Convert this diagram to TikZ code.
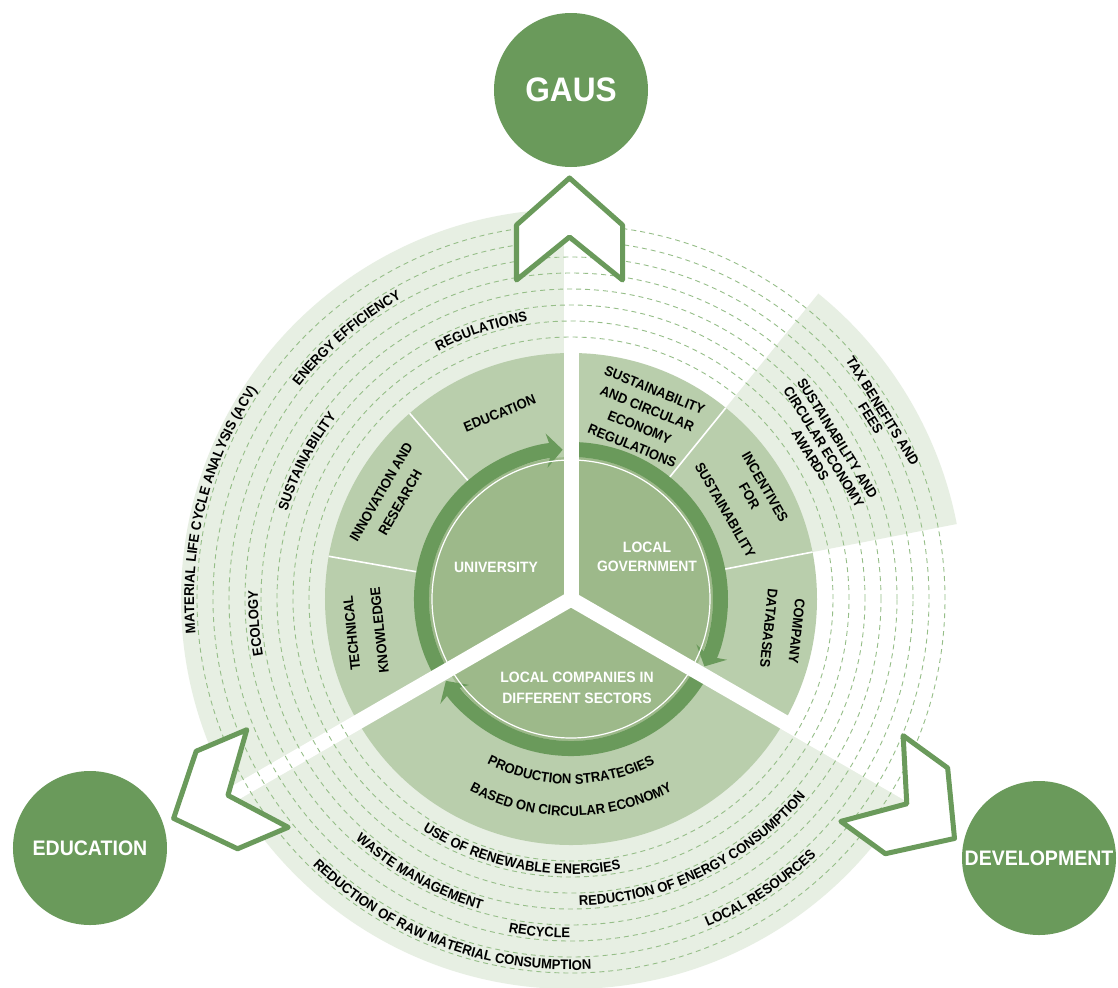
\documentclass[tikz,border=0pt]{standalone}
\usepackage{fontspec}
\setmainfont{Liberation Sans}[FakeStretch=0.93]
\usetikzlibrary{arrows.meta,decorations.text}

\definecolor{dkgreen}{RGB}{106,154,91}
\definecolor{hubgreen}{RGB}{157,185,138}
\definecolor{midgreen}{RGB}{185,206,172}
\definecolor{bandgreen}{RGB}{231,239,227}
\definecolor{dashgreen}{RGB}{150,190,136}

\newcommand{\lblfont}{\bfseries\fontsize{7}{9}\selectfont}

\begin{document}
\begin{tikzpicture}[x=0.5pt, y=0.5pt]
    \tikzset{ring label/.style={font=\lblfont, align=center, text=black, inner sep=0pt},
             hub label/.style={font=\bfseries\fontsize{7.5}{9.5}\selectfont, align=center, text=white, inner sep=0pt},
             goal/.style={circle, fill=dkgreen, text=white, minimum size=77pt, inner sep=0pt, font=\bfseries\fontsize{10.5}{12}\selectfont},
             ring arrow/.style={draw=dkgreen, line width=7.5pt, -{Stealth[width=17pt, length=8pt, inset=2.5pt]}},
             gap/.style={draw=white, line width=7.5pt},
             split/.style={draw=white, line width=0.8pt},
             dash ring/.style={draw=dashgreen, line width=0.45pt, dash pattern=on 2.5pt off 2pt},
             arc text/.style={decorate, decoration={text along path, text align=center, text={|\lblfont|#1}}},
             chevron/.pic={\draw[draw=dkgreen, fill=white, line width=2.5pt, line join=round] (0,53) -- (55,53) -- (102,0) -- (55,-53) -- (0,-53) -- (43,0) -- cycle;}}
    \path[use as bounding box, fill=white] (-571,-388) rectangle (547,599);
    % bands and rings
    \fill[bandgreen] (0,0) -- (90:390) arc[start angle=90, end angle=330, radius=390] -- cycle;
    \fill[bandgreen] (0,0) -- (11:393) arc[start angle=11, end angle=51, radius=393] -- cycle; % wedge
    \fill[midgreen] (0,0) circle[radius=246];
    \foreach \a in {131,170,51,11} \draw[split] (\a:150) -- (\a:246);
    \fill[hubgreen] (0,0) circle[radius=142];
    \draw[ring arrow] (210:149.5) arc[start angle=210, end angle=93.2, radius=149.5];
    \draw[ring arrow] (90:149.5) arc[start angle=90, end angle=-26.8, radius=149.5];
    \draw[ring arrow] (-30:149.5) arc[start angle=330, end angle=213.2, radius=149.5];
    \draw[white, line width=0.6pt] (0,0) circle[radius=139];
    \foreach \a in {90,210,330} \draw[gap] (0,0) -- (\a:400);
    \foreach \r in {262,278,...,374} \draw[dash ring] (0,0) circle[radius=\r];
    % chevrons and goals
    \pic[rotate=90] at (-1.5,319) {chevron};
    \pic[rotate=203] at (-303.5,-179.5) {chevron};
    \pic[rotate=-36] at (301,-179.5) {chevron};
    \node[goal, font=\bfseries\fontsize{17}{20}\selectfont] (gaus) at (0,509) {GAUS};
    \node[goal] (edu) at (-481,-249) {EDUCATION};
    \node[goal] (dev) at (468,-259) {DEVELOPMENT};
    % hub
    \node[hub label] (univ) at (-75,32) {UNIVERSITY};
    \node[hub label] (gov) at (76,42) {LOCAL\\GOVERNMENT};
    \node[hub label, font=\bfseries\fontsize{7.5}{10.5}\selectfont] (comp) at (6,-89) {LOCAL COMPANIES IN\\DIFFERENT SECTORS};
    % middle ring
    \node[ring label, rotate=22] (segedu) at (111:199) {EDUCATION};
    \node[ring label, rotate=60] (seginno) at (150.6:207) {INNOVATION AND\\[2pt]RESEARCH};
    \node[ring label, rotate=96] (segtech) at (189:208) {TECHNICAL\\[5pt]KNOWLEDGE};
    \node[ring label, rotate=-22] (segregs) at (68.2:195) {SUSTAINABILITY\\[1pt]AND CIRCULAR\\[1pt]ECONOMY\\[1pt]REGULATIONS};
    \node[ring label, rotate=-60] (seginc) at (30:201) {INCENTIVES\\FOR\\[5pt]SUSTAINABILITY};
    \node[ring label, rotate=-96] (segdata) at (-8.3:214) {COMPANY\\[5pt]DATABASES};
    \path[arc text={PRODUCTION STRATEGIES}] (230:185) arc[start angle=230, end angle=310, radius=185];
    \path[arc text={BASED ON CIRCULAR ECONOMY}] (230:217) arc[start angle=230, end angle=310, radius=217];
    % outer band
    \node[ring label, rotate=-58] (tax) at (31.1:357) {TAX BENEFITS AND\\[-2pt]FEES};
    \node[ring label, rotate=-58] (awards) at (31:295) {SUSTAINABILITY AND\\[-1pt]CIRCULAR ECONOMY\\[-1pt]AWARDS};
    \path[arc text=REGULATIONS] (133.5:281) arc[start angle=133.5, end angle=83.5, radius=281];
    \path[arc text=SUSTAINABILITY] (174.5:297) arc[start angle=174.5, end angle=130.5, radius=297];
    \path[arc text=ECOLOGY] (199.4:313) arc[start angle=199.4, end angle=169.4, radius=313];
    \path[arc text={ENERGY EFFICIENCY}] (152.7:345) arc[start angle=152.7, end angle=108.7, radius=345];
    \path[arc text={MATERIAL LIFE CYCLE ANALYSIS (ACV)}] (193.8:377) arc[start angle=193.8, end angle=137.8, radius=377];
    \path[arc text={USE OF RENEWABLE ENERGIES}] (228.9:275) arc[start angle=228.9, end angle=288.9, radius=275];
    \path[arc text={WASTE MANAGEMENT}] (221:323) arc[start angle=221, end angle=261, radius=323];
    \path[arc text={REDUCTION OF ENERGY CONSUMPTION}] (265.7:307) arc[start angle=265.7, end angle=325.7, radius=307];
    \path[arc text=RECYCLE] (252.6:339) arc[start angle=252.6, end angle=276.6, radius=339];
    \path[arc text={LOCAL RESOURCES}] (285.2:355) arc[start angle=285.2, end angle=321.2, radius=355];
    \path[arc text={REDUCTION OF RAW MATERIAL CONSUMPTION}] (219.5:371) arc[start angle=219.5, end angle=279.5, radius=371];
\end{tikzpicture}
\end{document}
